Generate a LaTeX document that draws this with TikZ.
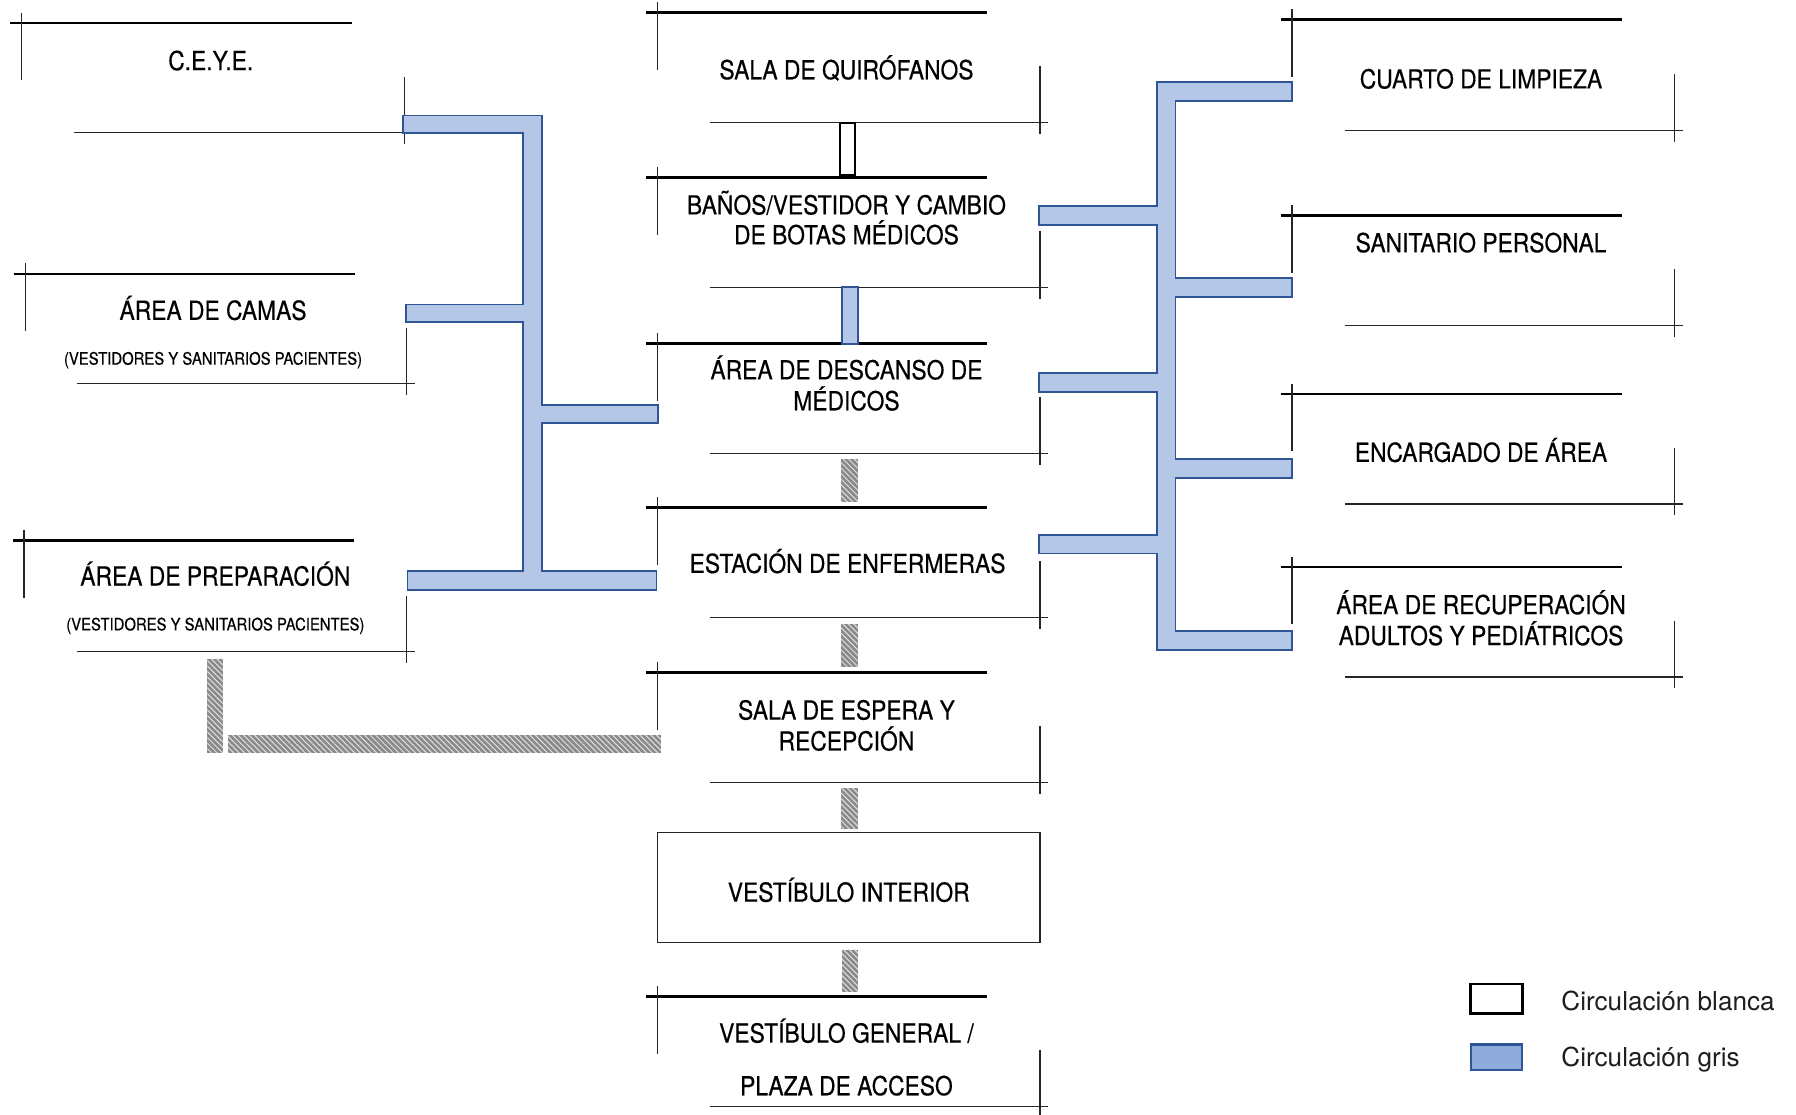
\documentclass[tikz,border=0pt]{standalone}
\usepackage{fontspec}
\setmainfont{TeX Gyre Heros}
\newfontfamily\labelfont[FakeStretch=0.87,FakeBold=0.4]{TeX Gyre Heros}
\usetikzlibrary{patterns.meta}

\definecolor{corrfill}{HTML}{B4C7E7}
\definecolor{corrline}{HTML}{2F5597}
\definecolor{legfill}{HTML}{8FAADC}
\definecolor{hatchgray}{HTML}{8A8A8A}
\definecolor{legtext}{HTML}{1E1E1E}

% corner marks of a room: thick top line with left tick, thin bottom line with right tick
\newcommand\roomframe[4]{%
  \draw[topline] (#1-10,#2) -- (#1+288,#2);
  \draw[thinline] (#1,#2-9) -- (#1,#2+50);
  \draw[thinline] (#3-288,#4) -- (#3+7,#4);
  \draw[thinline] (#3,#4-49) -- (#3,#4+10);
}

% grey circulation bars (x1/y1/x2/y2)
\newcommand\greynet{352/101/473/116, 457/101/473/515, 355/266/473/281,
  457/354/574/369, 356/499/573/515,
  1010/72/1128/88, 1010/72/1026/567, 1010/551/1128/567,
  1010/243/1128/259, 1010/401/1128/417,
  907/180/1026/196, 907/326/1026/342, 907/467/1026/483,
  735/251/749/300}

% public circulation bars (hatched)
\newcommand\publicnet{734/401/749/438, 734/545/749/582, 734/688/749/724,
  735/829/749/866, 181/575/195/657, 199/642/577/657}

\tikzset{
  topline/.style={line width=2.2pt, black},
  thinline/.style={line width=1pt, black!85},
  lbl/.style={font={\labelfont\fontsize{22.9}{27}\selectfont}, inner sep=0pt,
    text height=16.4pt, text depth=0pt, anchor=center},
  sublbl/.style={font={\labelfont\fontsize{14.9}{17}\selectfont}, inner sep=0pt,
    text height=10.7pt, text depth=0pt, anchor=center},
  legtxt/.style={font={\fontsize{22.8}{26}\selectfont}, text=legtext,
    inner sep=0pt, anchor=base west},
  hatch/.style={pattern={Lines[angle=-45,distance=3.4pt,line width=0.9pt]},
    pattern color=white!88!black},
}

\begin{document}
\begin{tikzpicture}[x=1pt,y=-1pt]
\useasboundingbox[fill=white] (0,0) rectangle (1568,972.6);

% ---- rooms ----
\roomframe{19}{20}{353}{116}
\roomframe{22}{239}{355}{335}
\roomframe{21}{472}{355}{569}
\roomframe{574}{11}{908}{107}
\roomframe{574}{155}{908}{251}
\roomframe{574}{300}{908}{396}
\roomframe{574}{443}{908}{539}
\roomframe{574}{587}{908}{683}
\roomframe{574}{870}{908}{966}
\roomframe{1128}{17}{1462}{114}
\roomframe{1128}{188}{1462}{284}
\roomframe{1128}{344}{1462}{440}
\roomframe{1128}{495}{1462}{591}

% ---- room names ----
\node[lbl] (ceye) at (184,53) {C.E.Y.E.};
\node[lbl] (camas) at (186,271) {ÁREA DE CAMAS};
\node[sublbl] (camas2) at (186,313) {(VESTIDORES Y SANITARIOS PACIENTES)};
\node[lbl] (prep) at (188,503) {ÁREA DE PREPARACIÓN};
\node[sublbl] (prep2) at (188,545) {(VESTIDORES Y SANITARIOS PACIENTES)};

\node[lbl] (quir) at (739,61) {SALA DE QUIRÓFANOS};
\node[lbl] (banos) at (739,179) {BAÑOS/VESTIDOR Y CAMBIO};
\node[lbl] (banos2) at (739,205) {DE BOTAS MÉDICOS};
\node[lbl] (desc) at (739,323) {ÁREA DE DESCANSO DE};
\node[lbl] (desc2) at (739,350) {MÉDICOS};
\node[lbl] (enf) at (740,492) {ESTACIÓN DE ENFERMERAS};
\node[lbl] (espera) at (739,620) {SALA DE ESPERA Y};
\node[lbl] (espera2) at (739,647) {RECEPCIÓN};
\node[lbl] (gral) at (739,902) {VESTÍBULO GENERAL /};
\node[lbl] (gral2) at (739,948) {PLAZA DE ACCESO};

\node[lbl] (limp) at (1293,69) {CUARTO DE LIMPIEZA};
\node[lbl] (sanit) at (1293,212) {SANITARIO PERSONAL};
\node[lbl] (encarg) at (1293,395) {ENCARGADO DE ÁREA};
\node[lbl] (recup) at (1293,528) {ÁREA DE RECUPERACIÓN};
\node[lbl] (recup2) at (1293,555) {ADULTOS Y PEDIÁTRICOS};

% interior lobby box
\draw[line width=1pt, black!85] (574,727) rectangle (908,823);
\node[lbl] (vint) at (741,779) {VESTÍBULO INTERIOR};

% ---- white circulation ----
\draw[line width=1.6pt, black, fill=white] (733.5,107.5) rectangle (746.5,152.5);

% ---- grey circulation (outline of the union, then fill) ----
\foreach \xa/\ya/\xb/\yb in \greynet
  \draw[corrline, line width=3.2pt] (\xa+0.6,\ya+0.6) rectangle (\xb-0.6,\yb-0.6);
\foreach \xa/\ya/\xb/\yb in \greynet
  \fill[corrfill] (\xa+0.6,\ya+0.6) rectangle (\xb-0.6,\yb-0.6);

% ---- public circulation ----
\foreach \xa/\ya/\xb/\yb in \publicnet {
  \fill[hatchgray] (\xa,\ya) rectangle (\xb,\yb);
  \fill[hatch] (\xa,\ya) rectangle (\xb,\yb);
}

% ---- legend ----
\draw[line width=2.2pt, black, fill=white] (1284,859) rectangle (1329,885);
\draw[line width=2pt, corrline, fill=legfill] (1284,912) rectangle (1329,934);
\node[legtxt] (legw) at (1363,882) {Circulación blanca};
\node[legtxt] (legg) at (1363,931) {Circulación gris};
\end{tikzpicture}
\end{document}
